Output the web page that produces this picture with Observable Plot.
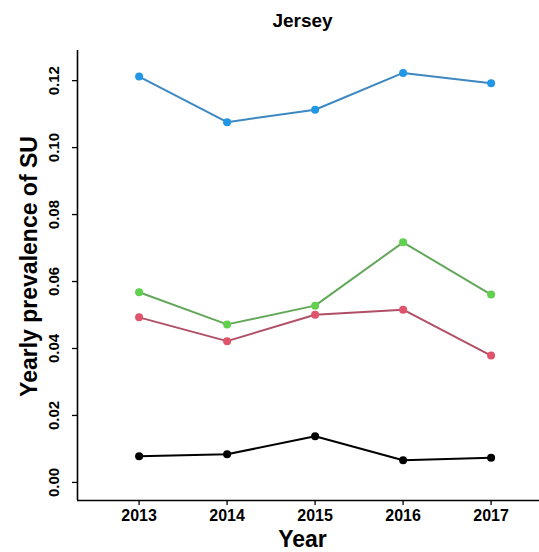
<!DOCTYPE html>
<html>
<head>
<meta charset="utf-8">
<script src="https://cdn.jsdelivr.net/npm/d3@7"></script>
<script src="https://cdn.jsdelivr.net/npm/@observablehq/plot@0.6"></script>
<style>
  html, body { margin: 0; padding: 0; background: #fff; }
  #chart { width: 539px; height: 552px; }
</style>
</head>
<body>
<div id="chart"></div>
<script>
const years = [2013, 2014, 2015, 2016, 2017];
const seriesNames = ["Series 1", "Series 2", "Series 3", "Series 4"];
const blackValues = [0.0078, 0.0084, 0.0138, 0.0066, 0.0074];
const redValues = [0.0493, 0.0422, 0.0501, 0.0516, 0.0379];
const greenValues = [0.0568, 0.0472, 0.0528, 0.0717, 0.0561];
const blueValues = [0.1212, 0.1076, 0.1113, 0.1223, 0.1192];
const yTicks = [0, 0.02, 0.04, 0.06, 0.08, 0.10, 0.12];
const title = "Jersey";
const xLabel = "Year";
const yLabel = "Yearly prevalence of SU";

const lineColors = ["#000000", "#b04f66", "#63a85a", "#3d88c0"];
const dotColors = ["#000000", "#DF536B", "#61D04F", "#2297E6"];

const valuesBySeries = [blackValues, redValues, greenValues, blueValues];
const rows = [];
seriesNames.forEach((s, i) => {
  years.forEach((y, j) => rows.push({series: s, year: y, value: valuesBySeries[i][j]}));
});

const xDomain = [2012.3, 2017.55];
const yDomain = [-0.0054, 0.129];

const chart = Plot.plot({
  width: 539,
  height: 552,
  marginLeft: 77,
  marginRight: 0,
  marginTop: 50,
  marginBottom: 52,
  style: {fontFamily: "'Liberation Sans', Arial, sans-serif", fontWeight: "bold", color: "#000", background: "#fff"},
  x: {domain: xDomain, label: null},
  y: {domain: yDomain, label: null},
  color: {domain: seriesNames, range: lineColors},
  marks: [
    Plot.ruleX([xDomain[0]], {stroke: "#000", strokeWidth: 1.6}),
    Plot.ruleY([yDomain[0]], {stroke: "#000", strokeWidth: 1.6}),
    Plot.axisX({ticks: years, tickFormat: "d", tickSize: 5, tickPadding: 4, fontSize: 16, fontWeight: "bold", label: null, strokeWidth: 1.3}),
    Plot.axisY({ticks: yTicks, tickFormat: ".2f", tickSize: 5, tickPadding: 14, tickRotate: -90, fontSize: 15, fontWeight: "bold", label: null, strokeWidth: 1.3}),
    Plot.line(rows, {x: "year", y: "value", z: "series", stroke: "series", strokeWidth: 2}),
    Plot.dot(rows, {x: "year", y: "value", fill: (d) => dotColors[seriesNames.indexOf(d.series)], r: 4, stroke: "none"}),
    Plot.text([title], {frameAnchor: "top", dy: -30, dx: -6, fontSize: 19, fontWeight: "bold", lineAnchor: "middle", textAnchor: "middle"}),
    Plot.text([xLabel], {frameAnchor: "bottom", dy: 39, dx: -6, fontSize: 23, fontWeight: "bold", lineAnchor: "middle", textAnchor: "middle"}),
    Plot.text([yLabel], {frameAnchor: "left", dx: -48, dy: -9, rotate: -90, fontSize: 23, fontWeight: "bold", lineAnchor: "middle", textAnchor: "middle"})
  ]
});
document.getElementById("chart").appendChild(chart);
</script>
</body>
</html>
